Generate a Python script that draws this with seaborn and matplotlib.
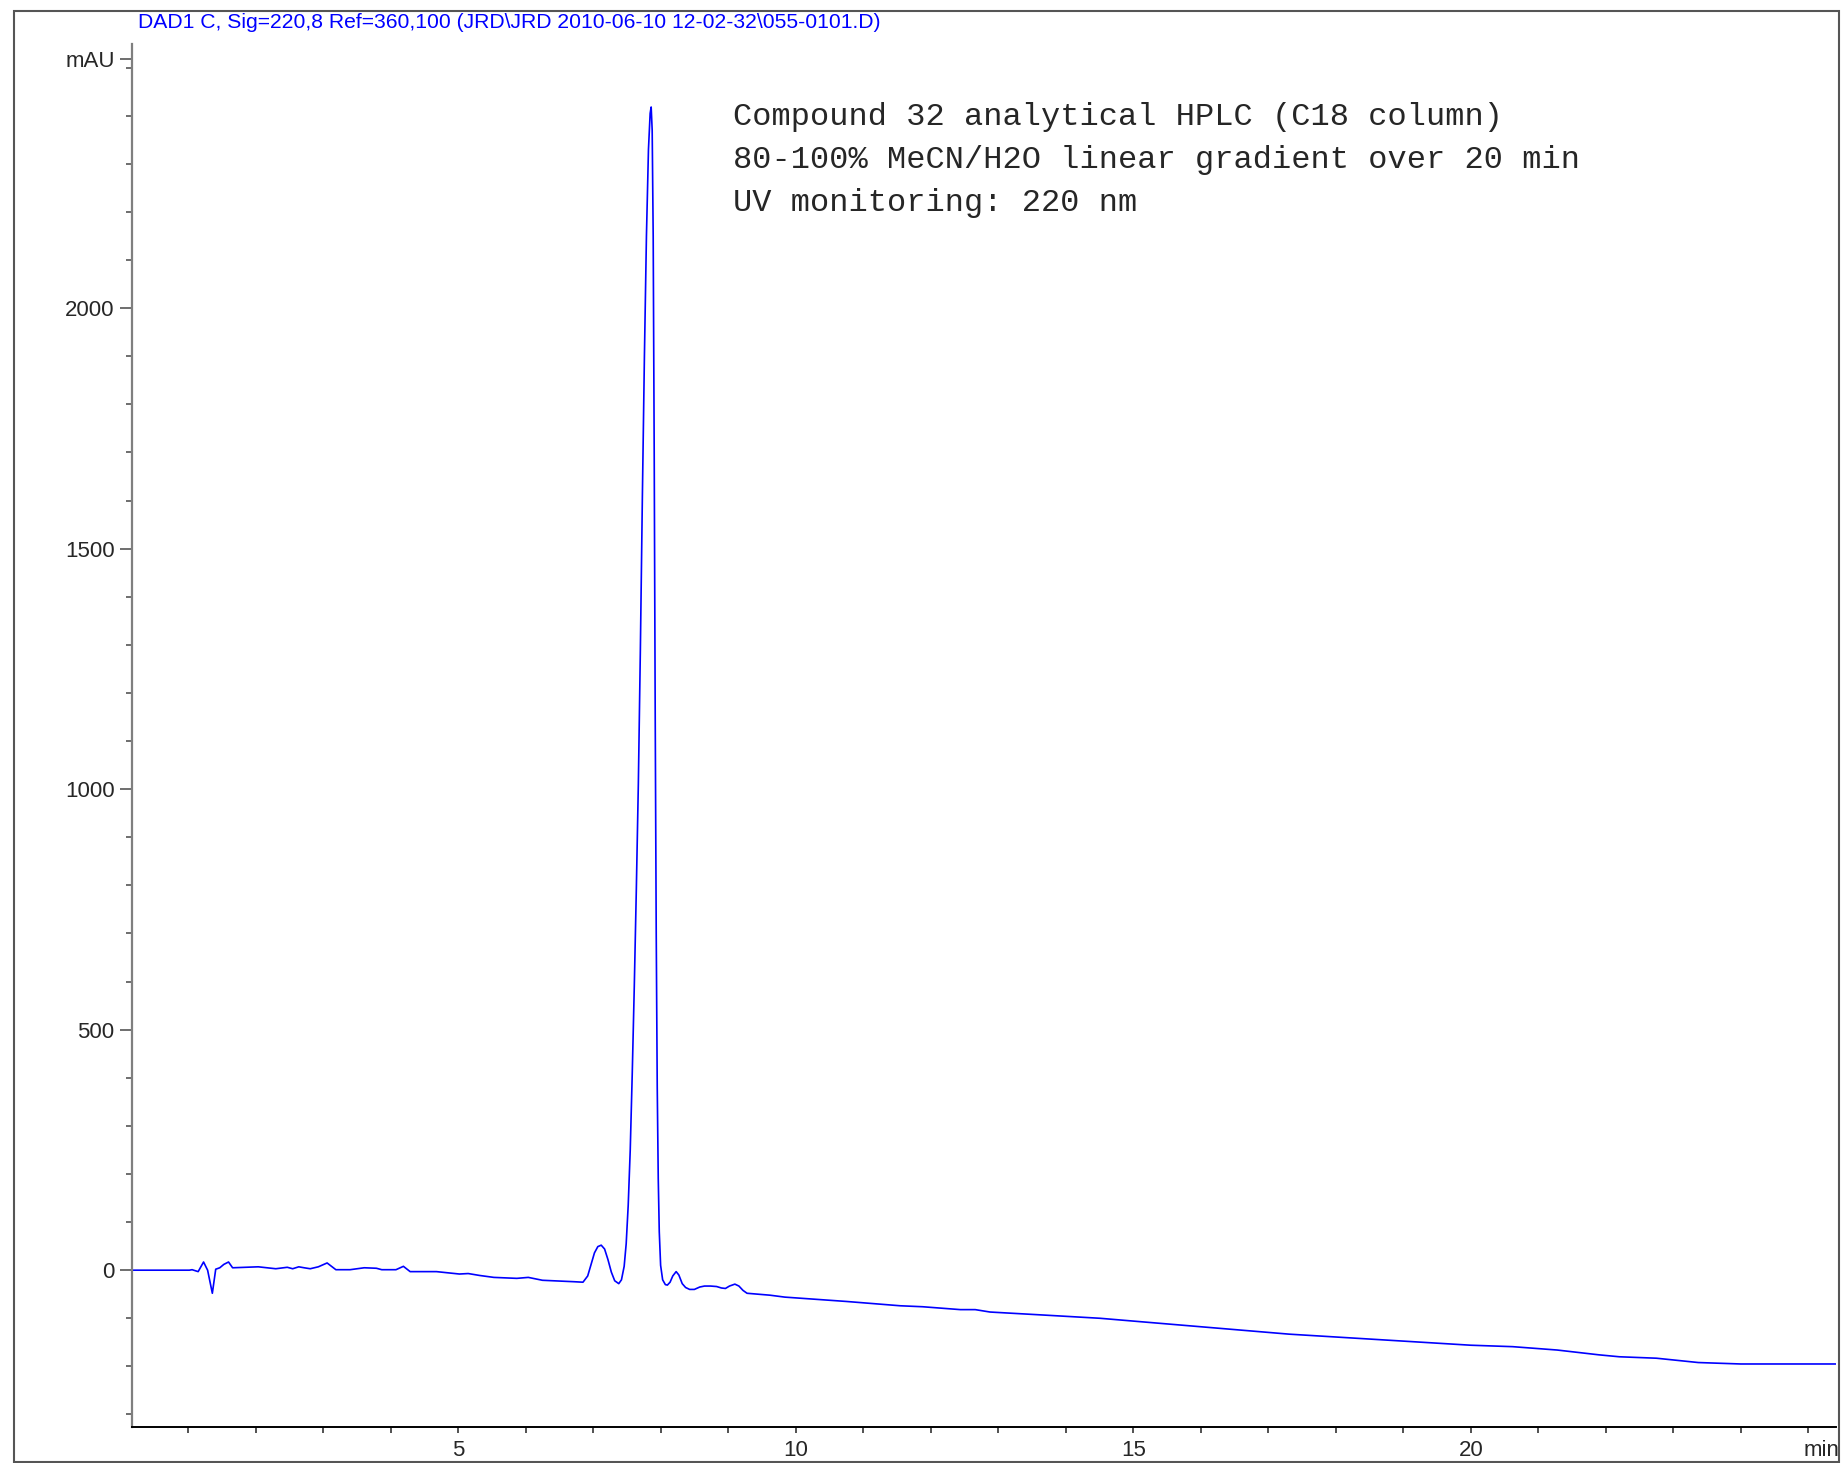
import matplotlib
matplotlib.use("Agg")
import matplotlib.pyplot as plt
import matplotlib.patches as patches
import matplotlib.transforms as mtransforms
import seaborn as sns
import pandas as pd

# retention time (min) and absorbance (mAU)
time_min = [
    0.17, 1.02, 1.06, 1.15, 1.23, 1.29, 1.36, 1.41, 1.47, 1.53, 1.60, 1.66,
    2.04, 2.30, 2.47, 2.55, 2.64, 2.72, 2.81, 2.93, 3.06, 3.19, 3.40, 3.61,
    3.79, 3.87, 4.08, 4.19, 4.29, 4.68, 5.02, 5.15, 5.32, 5.53, 5.87, 6.04,
    6.25, 6.72, 6.85, 6.92, 6.97, 7.02, 7.07, 7.12, 7.17, 7.22, 7.27, 7.32,
    7.38, 7.42, 7.46, 7.49, 7.52, 7.55, 7.58, 7.61, 7.64, 7.67, 7.70, 7.73,
    7.76, 7.79, 7.82, 7.845, 7.86, 7.875, 7.89, 7.905, 7.92, 7.935, 7.95,
    7.965, 7.98, 8.00, 8.03, 8.07, 8.10, 8.14, 8.18, 8.23, 8.27, 8.32, 8.37,
    8.43, 8.50, 8.58, 8.65, 8.74, 8.83, 8.90, 8.96, 9.02, 9.10, 9.16, 9.22,
    9.28, 9.62, 9.84, 10.75, 11.55, 11.88, 12.44, 12.66, 12.88, 13.64, 14.51,
    15.10, 17.31, 20.00, 20.62, 21.28, 21.90, 22.20, 22.75, 23.37, 24.00,
    25.41,
]
absorbance = [
    0, 0, 1, -3, 17, 0, -48, 2, 5, 12, 17, 5,
    7, 3, 6, 3, 7, 5, 3, 7, 15, 1, 1, 5,
    4, 1, 1, 8, -3, -3, -8, -7, -11, -15, -17, -15,
    -21, -24, -25, -12, 12, 36, 49, 52, 44, 22, -4, -22,
    -28, -20, 8, 55, 135, 250, 410, 590, 790, 1010, 1290, 1610,
    1900, 2150, 2330, 2405, 2418, 2370, 2150, 1700, 1150, 700, 380,
    190, 80, 10, -20, -30, -31, -25, -12, -3, -10, -28, -36,
    -40, -40, -35, -33, -33, -34, -37, -38, -33, -29, -33, -42,
    -48, -52, -56, -65, -74, -76, -82, -82, -87, -93, -100,
    -107, -133, -156, -159, -166, -176, -180, -183, -192, -195,
    -195,
]

y_major = [0, 500, 1000, 1500, 2000]
x_major = [5, 10, 15, 20, 25]
x_labels = ["5", "10", "15", "20", "min"]
notes = [
    "Compound 32 analytical HPLC (C18 column)",
    "80-100% MeCN/H2O linear gradient over 20 min",
    "UV monitoring: 220 nm",
]
header = r"DAD1 C, Sig=220,8 Ref=360,100 (JRD\JRD 2010-06-10 12-02-32\055-0101.D)"

sns.set_style("ticks")
plt.rcParams["font.family"] = ["Liberation Sans", "DejaVu Sans"]

W, H = 1841, 1463
fig = plt.figure(figsize=(W / 100, H / 100), dpi=100)
ax = fig.add_axes([132 / W, 36 / H, (1836 - 132) / W, (1427 - 44) / H])

df = pd.DataFrame({"t": time_min, "mAU": absorbance})
sns.lineplot(data=df, x="t", y="mAU", estimator=None, sort=False,
             color="#0000ff", linewidth=1.2, ax=ax)

ax.set_xlim(0.17, 25.41)
ax.set_ylim(-326, 2549)
ax.set_xlabel("")
ax.set_ylabel("")

ax.set_yticks(y_major + [2518])
ax.set_yticklabels([str(v) for v in y_major] + ["mAU"])
ax.set_yticks(range(-300, 2501, 100), minor=True)
ax.set_xticks(x_major)
ax.set_xticklabels(x_labels)
ax.set_xticks(range(1, 26), minor=True)

ax.tick_params(axis="y", which="major", length=8.5, width=1.2, color="#555555",
               labelsize=16, pad=4)
ax.tick_params(axis="y", which="minor", length=4.3, width=1.2, color="#555555")
ax.tick_params(axis="x", which="both", length=4.5, width=1.2, color="#333333",
               labelsize=16, pad=5)

# "min" sits just right of its tick, as in the instrument printout
min_label = ax.get_xticklabels()[-1]
min_label.set_horizontalalignment("left")
min_label.set_transform(min_label.get_transform() +
                        mtransforms.ScaledTranslation(-5 / 100, 0, fig.dpi_scale_trans))

for side in ["top", "right"]:
    ax.spines[side].set_visible(False)
ax.spines["left"].set_color("#7f7f7f")
ax.spines["left"].set_linewidth(1.6)
ax.spines["bottom"].set_color("black")
ax.spines["bottom"].set_linewidth(1.4)

fig.text(138 / W, 1 - 28 / H, header, color="#0000ff", fontsize=15.2,
         va="baseline", ha="left")

for i, line in enumerate(notes):
    fig.text(733 / W, 1 - (124.5 + 43.3 * i) / H, line, fontsize=23,
             family=["Liberation Mono", "DejaVu Sans Mono"],
             va="baseline", ha="left")

frame = patches.Rectangle((14 / W, 1 / H), (1839 - 14) / W, (1452 - 1) / H,
                          transform=fig.transFigure, fill=False,
                          edgecolor="#555555", linewidth=1.5)
fig.patches.append(frame)

plt.savefig("out.png", dpi=100)
plt.close()
